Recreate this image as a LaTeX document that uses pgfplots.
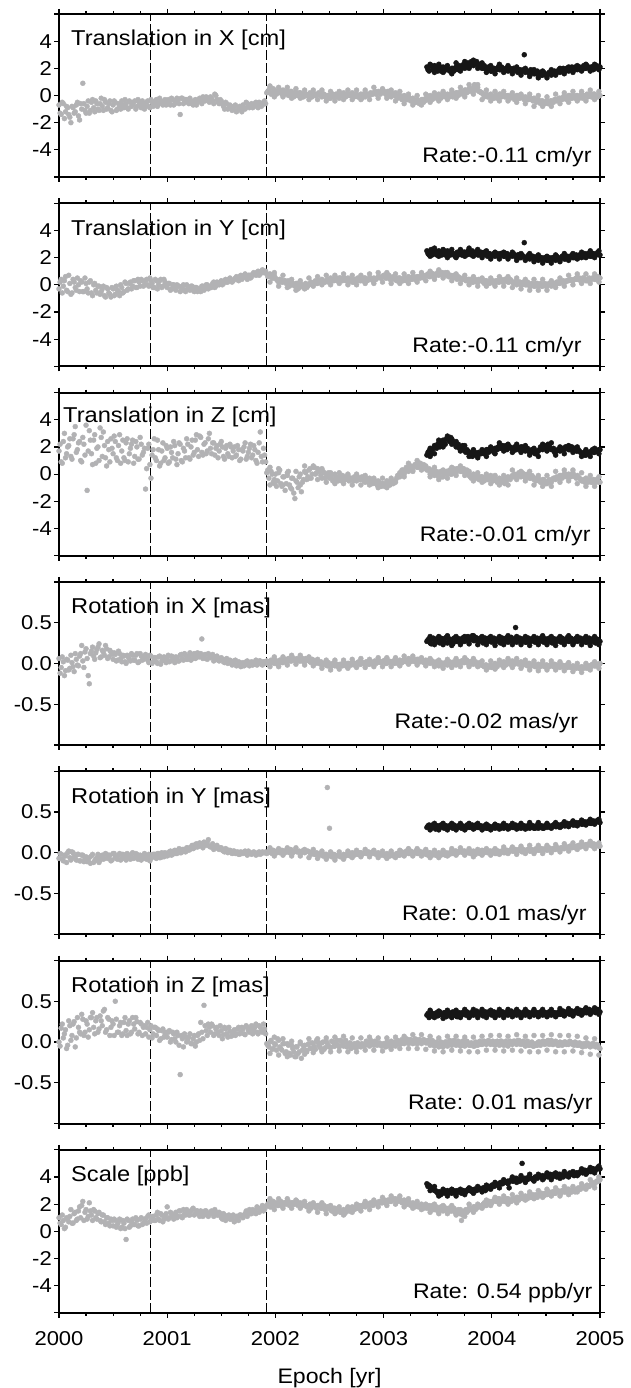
\documentclass[border=0pt]{standalone}
\usepackage{fontspec}
\setmainfont{Liberation Sans}[FakeStretch=1.1]
\usepackage{pgfplots}
\usepackage{pgfplotstable}
\pgfplotsset{compat=1.18}

\definecolor{dotgray}{RGB}{178,178,180}
\definecolor{dotblack}{RGB}{22,22,22}

% combined solutions, columns: epoch, TX TY TZ [cm], RX RY RZ [mas], scale [ppb]
\pgfplotstableread{
x tx ty tz rx ry rz sc
2000.00 -0.7 -0.3 1.7 0.06 -0.07 0.00 1.0
2000.02 -1.4 0.4 0.9 -0.05 -0.02 0.17 0.5
2000.04 -0.6 -0.1 2.4 0.02 -0.10 0.05 0.8
2000.06 -1.2 0.6 1.2 -0.09 -0.04 0.15 0.3
2000.08 -0.9 -0.5 2.0 0.04 0.00 -0.04 0.9
2000.10 -1.6 0.1 2.6 -0.06 -0.06 0.20 1.1
2000.12 -0.8 -0.6 1.1 0.01 0.01 0.08 0.6
2000.14 -1.3 0.2 2.9 -0.10 -0.05 0.25 1.3
2000.16 -0.7 -0.4 1.6 0.05 -0.09 0.05 0.8
2000.18 -1.5 0.0 2.3 -0.03 -0.02 0.18 1.5
2000.20 -0.6 0.3 1.0 0.12 -0.10 0.10 1.0
2000.22 0.9 -0.5 2.7 0.03 -0.03 0.28 2.2
2000.24 -1.1 0.5 1.4 0.14 -0.07 0.12 1.4
2000.26 -0.8 -0.3 -1.2 0.06 -0.11 0.22 0.9
2000.28 -1.3 0.2 3.2 -0.25 -0.06 0.15 2.1
2000.30 -0.5 -0.6 1.5 0.15 -0.04 0.30 1.2
2000.32 -0.9 0.0 2.5 0.09 -0.12 0.18 1.6
2000.34 -0.4 -0.4 0.8 0.13 -0.08 0.26 1.0
2000.36 -1.0 -0.1 2.0 0.20 -0.02 0.12 1.3
2000.38 -0.6 -0.7 3.4 0.07 -0.09 0.32 0.8
2000.40 -0.8 -0.3 1.3 0.16 -0.03 0.20 1.2
2000.42 -0.3 -0.8 2.1 0.10 -0.07 0.40 0.7
2000.44 -1.0 -0.2 0.6 0.18 -0.02 0.15 1.0
2000.46 -0.6 -0.6 1.8 0.08 -0.06 0.28 0.6
2000.48 -1.1 -0.9 2.6 0.14 -0.10 0.18 0.9
2000.50 -0.7 -0.3 1.5 0.05 -0.01 0.22 0.4
2000.52 -0.5 -0.7 2.4 0.11 -0.05 0.50 0.8
2000.54 -1.0 -0.4 1.0 0.04 -0.08 0.12 0.5
2000.56 -0.8 -0.8 2.9 0.12 -0.01 0.20 0.9
2000.58 -0.4 -0.2 1.7 0.02 -0.07 0.08 0.3
2000.60 -0.9 -0.5 1.2 0.09 -0.03 0.24 0.6
2000.62 -0.6 0.1 2.3 0.00 -0.09 0.14 -0.6
2000.64 -1.0 -0.3 0.9 0.08 -0.04 0.22 0.8
2000.66 -0.5 0.2 1.9 0.03 -0.08 0.10 0.4
2000.68 -0.7 -0.1 2.5 0.10 0.00 0.30 0.9
2000.70 -0.4 0.3 1.3 0.04 -0.06 0.16 0.5
2000.72 -0.8 -0.2 2.0 0.12 -0.02 0.25 0.8
2000.74 -0.5 0.2 1.1 0.02 -0.05 0.12 0.4
2000.76 -0.9 0.4 2.2 0.09 -0.09 0.22 1.0
2000.78 -0.6 -0.1 1.6 0.05 -0.03 0.18 0.6
2000.80 -0.8 0.3 -1.1 0.11 -0.07 0.10 0.9
2000.82 -0.4 0.0 1.9 0.04 -0.04 0.24 1.1
2000.84 -0.9 0.5 0.7 0.10 -0.10 0.15 0.7
2000.86 -0.5 0.1 1.4 0.00 -0.05 0.05 1.0
2000.88 -0.7 -0.2 2.6 0.07 -0.02 0.18 0.8
2000.90 -0.3 0.3 1.0 0.02 -0.07 0.08 1.2
2000.92 -0.6 0.0 1.8 0.08 -0.01 0.14 0.9
2000.94 -0.4 0.4 0.8 -0.01 -0.06 0.04 1.3
2000.96 -0.7 -0.1 2.3 0.06 -0.03 0.16 0.7
2000.98 -0.3 0.2 1.2 0.03 0.00 0.10 1.1
2001.00 -0.6 -0.2 1.9 0.07 -0.04 0.06 1.8
2001.02 -0.5 0.1 0.9 0.02 0.01 0.14 1.0
2001.04 -0.2 -0.3 1.6 0.09 -0.03 0.03 1.3
2001.06 -0.7 0.0 2.4 0.04 0.02 0.10 0.9
2001.08 -0.4 -0.4 1.1 0.08 -0.01 0.00 1.4
2001.10 -0.3 -0.1 1.5 0.03 0.03 0.08 1.1
2001.12 -1.4 -0.5 2.2 0.10 0.00 -0.40 1.5
2001.14 -0.2 -0.2 0.9 0.06 0.04 0.04 1.0
2001.16 -0.5 -0.4 1.7 0.12 0.02 0.10 1.3
2001.18 -0.3 0.0 2.6 0.05 0.06 0.00 1.6
2001.20 -0.6 -0.3 1.2 0.09 0.03 0.06 1.2
2001.22 -0.4 -0.1 2.0 0.04 0.07 -0.02 1.5
2001.24 -0.7 -0.4 1.4 0.11 0.05 0.04 1.7
2001.26 -0.3 -0.2 2.5 0.06 0.10 -0.05 1.3
2001.28 -0.5 -0.5 1.8 0.13 0.07 0.08 1.5
2001.30 -0.2 -0.3 2.8 0.08 0.12 0.02 1.1
2001.32 -0.6 -0.1 1.6 0.30 0.08 0.12 1.4
2001.34 -0.3 -0.4 2.2 0.10 0.13 0.45 1.2
2001.36 -0.1 0.0 1.5 0.06 0.09 0.14 1.5
2001.38 -0.4 -0.3 2.6 0.12 0.16 0.22 1.1
2001.40 -0.1 -0.1 1.9 0.07 0.07 0.12 1.4
2001.42 -0.4 0.1 2.3 0.11 0.11 0.20 1.3
2001.44 0.1 -0.2 1.4 0.05 0.06 0.10 1.6
2001.46 -0.3 0.2 2.1 0.09 0.09 0.18 1.2
2001.48 -0.6 0.0 1.7 0.03 0.04 0.08 1.4
2001.50 -0.4 0.3 2.4 0.07 0.06 0.14 1.0
2001.52 -0.8 0.1 1.3 0.02 0.02 0.09 1.3
2001.54 -0.5 0.4 1.9 0.05 0.05 0.16 0.8
2001.56 -1.0 0.2 1.5 0.00 0.00 0.06 1.1
2001.58 -0.7 0.5 2.2 0.04 0.03 0.13 0.9
2001.60 -1.1 0.2 1.2 -0.02 -0.01 0.08 1.0
2001.62 -0.8 0.4 2.0 0.03 0.02 0.15 0.7
2001.64 -1.2 0.6 1.4 -0.03 0.00 0.10 1.1
2001.66 -0.9 0.3 1.8 0.02 -0.02 0.18 0.8
2001.68 -1.0 0.7 1.1 -0.04 0.01 0.12 1.2
2001.70 -0.7 0.5 1.7 0.01 -0.01 0.16 1.0
2001.72 -1.0 0.8 2.3 -0.02 0.02 0.09 1.3
2001.74 -0.6 0.4 1.3 0.03 -0.03 0.18 1.1
2001.76 -0.9 0.7 1.9 -0.03 0.00 0.12 1.6
2001.78 -0.6 0.6 1.2 0.02 -0.02 0.20 1.3
2001.80 -0.8 0.9 2.1 -0.01 0.01 0.14 1.5
2001.82 -0.5 0.7 1.0 0.04 -0.03 0.22 1.3
2001.84 -0.9 1.0 1.6 0.00 0.00 0.10 1.7
2001.86 -0.6 0.8 3.1 0.03 -0.02 0.18 1.5
2001.88 -0.7 1.1 0.9 -0.02 0.01 0.12 1.9
2001.90 -0.4 0.9 1.4 0.02 0.00 0.16 1.6
2001.92 0.2 0.8 0.1 0.03 -0.01 -0.02 1.9
2001.94 0.4 0.7 -0.3 0.00 0.02 -0.06 2.1
2001.96 0.1 0.6 0.2 0.04 0.00 0.02 1.8
2001.98 0.5 0.5 -0.6 0.01 0.03 -0.08 2.2
2002.00 0.3 0.5 0.0 0.03 -0.01 -0.03 2.0
2002.02 0.2 0.3 -0.5 -0.01 0.02 0.04 1.9
2002.04 0.4 0.4 0.3 0.04 0.00 -0.06 2.2
2002.06 0.1 0.2 -0.9 0.01 0.03 -0.10 1.9
2002.08 0.3 0.3 -0.2 0.05 0.01 -0.02 2.1
2002.10 0.2 0.1 -0.7 0.02 0.03 -0.12 2.0
2002.12 0.0 0.3 0.2 0.06 0.01 -0.04 2.2
2002.14 0.3 0.1 -1.0 0.03 0.04 -0.16 1.9
2002.16 0.1 0.0 -0.3 0.07 0.00 -0.08 2.1
2002.18 0.2 -0.1 -1.8 0.04 0.02 -0.18 2.0
2002.20 0.0 0.1 -0.6 0.06 0.01 -0.06 2.2
2002.22 0.2 -0.2 -0.2 0.03 0.02 -0.12 2.0
2002.24 0.1 0.0 -1.3 0.05 0.00 -0.20 1.9
2002.26 -0.1 -0.2 -0.4 0.02 0.03 -0.05 2.1
2002.28 0.1 0.1 0.1 0.06 0.01 -0.10 1.9
2002.30 0.0 -0.1 -0.2 0.04 0.02 -0.03 1.8
2002.32 0.2 0.1 0.4 0.02 0.00 -0.08 2.0
2002.34 -0.1 0.0 0.0 0.05 0.01 -0.01 1.8
2002.36 0.1 0.2 0.5 0.01 -0.02 -0.06 1.9
2002.38 0.0 0.1 0.1 0.03 0.00 0.02 1.7
2002.40 0.2 0.3 0.3 0.00 -0.03 -0.04 1.9
2002.42 0.0 0.2 -0.1 0.02 -0.01 -0.08 1.7
2002.44 0.1 0.3 0.2 -0.02 -0.04 0.00 1.8
2002.46 -0.1 0.2 -0.3 0.01 -0.02 -0.07 1.6
2002.48 0.0 0.4 0.0 -0.03 0.80 -0.02 1.8
2002.50 -0.2 0.3 -0.3 -0.01 0.30 -0.06 1.7
2002.52 0.0 0.4 -0.1 -0.03 -0.05 0.01 1.5
2002.54 -0.1 0.3 -0.4 0.00 -0.02 -0.05 1.7
2002.56 0.1 0.5 -0.2 -0.02 -0.04 0.00 1.4
2002.58 -0.1 0.4 -0.5 -0.04 -0.03 -0.04 1.6
2002.60 0.0 0.5 -0.3 -0.01 -0.05 0.02 1.4
2002.62 0.1 0.3 -0.1 -0.03 -0.04 -0.03 1.5
2002.64 -0.1 0.5 -0.4 0.00 -0.03 0.00 1.3
2002.66 0.1 0.4 -0.2 -0.02 -0.02 -0.06 1.6
2002.68 0.0 0.3 -0.5 0.00 -0.03 -0.02 1.5
2002.70 0.1 0.4 -0.3 -0.02 -0.01 -0.08 1.7
2002.72 -0.1 0.2 -0.5 0.01 -0.03 -0.04 1.6
2002.74 0.1 0.3 -0.3 -0.01 0.00 -0.07 1.8
2002.76 -0.1 0.5 -0.2 0.01 -0.02 -0.01 1.7
2002.78 0.0 0.3 -0.4 -0.01 0.00 -0.05 1.9
2002.80 -0.2 0.4 -0.2 0.01 -0.02 -0.02 1.8
2002.82 0.0 0.5 -0.5 0.00 0.00 -0.05 2.0
2002.84 0.1 0.3 -0.3 0.02 -0.01 0.01 1.9
2002.86 0.0 0.4 -0.6 -0.01 0.01 -0.03 2.0
2002.88 0.2 0.5 -0.4 0.02 -0.01 0.02 2.1
2002.90 0.1 0.3 -0.7 0.00 0.01 -0.02 1.9
2002.92 0.3 0.4 -0.5 0.03 -0.01 0.01 2.1
2002.94 0.2 0.5 -0.8 0.01 -0.02 -0.04 2.0
2002.96 0.2 0.6 -0.6 0.03 -0.01 -0.01 2.2
2002.98 0.3 0.5 -0.9 0.01 -0.03 -0.05 2.1
2003.00 0.2 0.7 -0.7 0.03 -0.02 -0.02 2.2
2003.02 0.1 0.5 -0.8 0.00 -0.03 -0.06 2.1
2003.04 0.3 0.6 -0.6 0.02 -0.02 -0.03 2.3
2003.06 0.0 0.4 -0.8 0.01 -0.04 -0.01 2.2
2003.08 0.1 0.5 -0.5 0.02 -0.02 -0.04 2.4
2003.10 0.0 0.4 -0.6 0.00 -0.03 0.00 2.3
2003.12 -0.1 0.3 -0.3 0.02 -0.01 -0.03 2.2
2003.14 0.0 0.5 -0.1 0.01 -0.03 0.01 2.4
2003.16 -0.2 0.4 0.1 0.03 0.00 -0.02 2.2
2003.18 -0.1 0.3 0.3 0.02 -0.02 0.02 2.1
2003.20 -0.2 0.5 0.2 0.04 -0.01 0.00 2.2
2003.22 -0.3 0.4 0.4 0.02 0.01 0.03 2.0
2003.24 -0.2 0.5 0.5 0.05 -0.01 -0.01 2.1
2003.26 -0.4 0.4 0.3 0.03 0.01 0.02 2.0
2003.28 -0.3 0.6 0.6 0.05 0.00 0.00 1.9
2003.30 -0.5 0.5 0.7 0.03 0.02 0.03 2.0
2003.32 -0.4 0.6 0.5 0.05 -0.01 -0.01 1.8
2003.34 -0.5 0.5 0.8 0.02 0.01 0.02 1.9
2003.36 -0.3 0.7 0.4 0.04 -0.01 0.00 1.7
2003.38 -0.4 0.6 0.6 0.01 0.00 0.02 1.8
2003.40 -0.2 0.7 0.3 0.03 -0.02 -0.01 1.7
2003.42 -0.3 0.6 0.4 0.01 0.00 0.01 1.9
2003.44 -0.1 0.7 0.1 0.02 -0.02 -0.03 1.8
2003.46 -0.2 0.8 0.2 0.00 -0.01 0.00 1.6
2003.48 -0.1 0.7 0.0 0.01 -0.03 -0.04 1.7
2003.50 -0.2 0.9 -0.1 -0.01 -0.02 -0.02 1.5
2003.52 0.0 0.8 0.1 0.00 -0.03 -0.05 1.7
2003.54 -0.1 0.9 -0.2 -0.02 -0.01 -0.02 1.6
2003.56 0.1 0.7 0.0 0.00 -0.02 -0.04 1.8
2003.58 0.0 0.8 0.2 -0.01 0.00 0.00 1.6
2003.60 0.0 0.6 0.1 0.00 -0.01 -0.02 1.7
2003.62 0.1 0.7 0.0 -0.02 0.01 0.01 1.5
2003.64 -0.1 0.5 0.3 0.01 -0.01 -0.02 1.6
2003.66 0.1 0.6 0.2 -0.01 0.02 0.00 1.4
2003.68 0.2 0.4 0.4 0.02 0.00 -0.03 1.5
2003.70 0.1 0.5 0.3 0.01 0.02 -0.01 1.3
2003.72 0.3 0.4 0.2 0.03 0.01 -0.04 0.8
2003.74 0.2 0.5 0.4 0.01 0.02 0.00 1.4
2003.76 0.4 0.3 0.1 0.02 0.00 -0.03 1.6
2003.78 0.3 0.4 0.0 0.00 0.01 -0.01 1.5
2003.80 0.5 0.3 -0.2 0.02 -0.01 -0.04 1.7
2003.82 0.4 0.2 -0.1 0.00 0.01 -0.02 1.6
2003.84 0.8 0.3 -0.3 0.01 -0.01 -0.05 1.8
2003.86 0.5 0.2 -0.2 -0.01 0.01 -0.02 1.7
2003.88 0.3 0.4 -0.4 0.00 0.00 0.00 1.9
2003.90 0.2 0.3 -0.2 -0.02 0.02 -0.03 1.8
2003.92 0.1 0.2 -0.4 -0.03 0.01 0.00 2.0
2003.94 0.0 0.3 -0.3 -0.02 0.03 -0.02 1.9
2003.96 -0.1 0.2 -0.4 -0.04 0.00 0.01 2.1
2003.98 0.0 0.1 -0.2 -0.03 0.02 -0.01 2.2
2004.00 -0.1 0.2 -0.3 -0.05 0.00 0.00 2.1
2004.02 -0.2 0.1 -0.4 -0.03 0.01 -0.03 2.3
2004.04 0.0 0.3 -0.5 -0.02 -0.01 0.00 2.2
2004.06 -0.1 0.2 -0.4 -0.01 0.02 -0.02 2.4
2004.08 0.1 0.3 -0.6 0.00 0.00 0.01 2.2
2004.10 0.0 0.2 -0.5 0.01 0.02 -0.03 2.3
2004.12 -0.1 0.4 -0.7 -0.01 0.00 -0.01 2.2
2004.14 0.0 0.3 -0.4 0.02 0.03 -0.04 2.4
2004.16 -0.2 0.2 -0.3 0.00 0.01 0.00 2.3
2004.18 0.0 0.3 -0.2 0.02 0.04 -0.02 2.2
2004.20 -0.1 0.1 -0.2 0.01 0.02 0.01 2.4
2004.22 -0.2 0.2 -0.1 0.02 0.04 -0.01 2.3
2004.24 0.0 0.1 0.0 0.00 0.02 0.02 2.5
2004.26 -0.2 0.2 -0.1 0.01 0.03 -0.02 2.4
2004.28 -0.1 0.0 0.1 -0.01 0.01 0.00 2.6
2004.30 -0.3 0.1 0.0 0.00 0.03 -0.03 2.5
2004.32 -0.2 0.0 -0.2 -0.02 0.02 0.00 2.4
2004.34 -0.3 0.1 -0.1 0.00 0.04 -0.04 2.6
2004.36 -0.2 -0.1 -0.3 -0.03 0.02 -0.02 2.5
2004.38 -0.4 0.0 -0.2 -0.02 0.03 -0.05 2.7
2004.40 -0.3 -0.1 -0.4 -0.04 0.02 -0.02 2.6
2004.42 -0.4 0.1 -0.3 -0.02 0.04 -0.04 2.5
2004.44 -0.5 0.0 -0.5 -0.03 0.03 0.00 2.7
2004.46 -0.4 -0.1 -0.6 -0.01 0.05 -0.02 2.8
2004.48 -0.6 0.0 -0.4 -0.03 0.03 0.01 2.6
2004.50 -0.5 -0.1 -0.7 -0.02 0.04 -0.01 2.8
2004.52 -0.6 0.0 -0.5 -0.04 0.05 0.02 2.9
2004.54 -0.4 0.1 -0.6 -0.02 0.03 -0.01 2.7
2004.56 -0.5 0.0 -0.4 -0.03 0.05 -0.03 2.9
2004.58 -0.3 0.1 -0.3 -0.01 0.04 0.00 2.8
2004.60 -0.4 0.2 -0.2 -0.03 0.06 -0.02 3.0
2004.62 -0.2 0.1 -0.3 -0.04 0.04 -0.04 2.9
2004.64 -0.3 0.2 -0.1 -0.02 0.06 -0.01 2.8
2004.66 -0.1 0.3 -0.2 -0.04 0.05 -0.03 3.0
2004.68 -0.2 0.2 0.0 -0.03 0.07 0.00 2.9
2004.70 -0.1 0.3 -0.1 -0.05 0.06 -0.02 3.1
2004.72 0.0 0.4 -0.2 -0.03 0.08 0.01 3.0
2004.74 -0.2 0.3 0.0 -0.05 0.06 -0.02 2.9
2004.76 -0.1 0.4 -0.1 -0.04 0.08 -0.04 3.1
2004.78 0.0 0.5 -0.3 -0.06 0.07 -0.01 3.0
2004.80 -0.1 0.4 -0.2 -0.05 0.09 -0.04 3.2
2004.82 0.0 0.3 -0.4 -0.07 0.07 -0.02 3.1
2004.84 -0.2 0.5 -0.5 -0.05 0.09 -0.06 3.3
2004.86 0.0 0.4 -0.6 -0.04 0.08 -0.03 3.2
2004.88 0.1 0.3 -0.4 -0.06 0.10 -0.01 3.4
2004.90 0.0 0.5 -0.5 -0.03 0.11 -0.03 3.3
2004.92 -0.1 0.4 -0.6 -0.04 0.09 -0.05 3.5
2004.94 0.1 0.5 -0.4 -0.02 0.11 -0.02 3.4
2004.96 0.0 0.4 -0.6 -0.03 0.09 -0.06 3.6
2004.98 -0.1 0.6 -0.5 -0.01 0.10 -0.04 3.7
2005.00 0.0 0.5 -0.6 0.00 0.08 -0.08 3.8
}\greya

\pgfplotstableread{
x tx ty tz rx ry rz sc
2000.01 -1.3 0.2 2.2 -0.12 -0.01 -0.05 0.6
2000.03 -0.5 -0.6 0.8 0.08 -0.08 0.22 1.2
2000.05 -1.7 0.3 3.0 -0.15 -0.03 0.10 0.2
2000.07 -0.8 -0.4 1.5 0.05 -0.12 -0.08 1.0
2000.09 -1.4 0.7 2.1 -0.08 0.02 0.26 0.7
2000.11 -2.0 -0.7 1.3 0.10 -0.09 0.02 1.6
2000.13 -0.9 0.4 2.6 -0.04 0.00 0.22 0.6
2000.15 -1.2 -0.2 3.5 0.12 -0.07 -0.06 1.4
2000.17 -0.5 0.5 1.8 -0.02 -0.02 0.30 0.9
2000.19 -1.8 -0.5 2.4 0.09 -0.10 0.12 1.8
2000.21 -1.0 0.2 0.9 0.22 -0.03 0.34 1.9
2000.23 -0.6 -0.5 2.2 -0.05 -0.11 0.08 0.8
2000.25 -1.3 0.1 3.6 0.18 -0.05 0.26 1.6
2000.27 -0.4 -0.6 1.7 -0.15 -0.09 0.06 1.1
2000.29 -1.1 0.3 2.5 0.12 -0.13 0.30 1.5
2000.31 -0.3 -0.8 0.7 0.20 -0.02 0.36 0.8
2000.33 -1.2 0.1 2.9 0.05 -0.10 0.10 1.5
2000.35 -0.6 -0.6 1.9 0.17 -0.06 0.30 0.9
2000.37 -1.1 -0.1 1.0 0.24 -0.12 0.16 1.4
2000.39 -0.2 -0.5 2.7 0.08 -0.04 0.26 0.7
2000.41 -1.1 -0.1 3.1 0.14 -0.08 0.38 1.2
2000.43 -0.5 -0.9 1.2 0.22 -0.01 0.12 0.5
2000.45 -0.9 -0.3 2.4 0.06 -0.07 0.30 1.0
2000.47 -0.4 -0.7 0.9 0.16 -0.03 0.08 0.4
2000.49 -1.2 -0.2 1.9 0.11 -0.09 0.26 0.8
2000.51 -0.4 -0.8 2.8 0.13 -0.01 0.08 0.9
2000.53 -1.1 -0.1 1.2 0.03 -0.07 0.28 0.3
2000.55 -0.6 -0.5 2.1 0.15 -0.03 0.12 0.7
2000.57 -1.0 0.0 0.8 0.06 -0.09 0.24 0.2
2000.59 -0.7 -0.6 2.5 0.10 -0.02 0.10 0.8
2000.61 -0.3 0.2 1.0 0.02 -0.07 0.30 0.2
2000.63 -0.9 -0.4 2.6 0.10 -0.01 0.08 0.9
2000.65 -0.4 0.1 1.5 0.05 -0.06 0.26 0.3
2000.67 -0.8 -0.3 2.2 0.12 -0.02 0.12 0.7
2000.69 -0.5 0.3 0.8 0.04 -0.07 0.22 0.5
2000.71 -1.0 -0.2 2.4 0.10 -0.01 0.30 1.0
2000.73 -0.3 0.4 1.1 0.01 -0.08 0.10 0.4
2000.75 -0.7 -0.1 2.7 0.12 -0.03 0.24 0.9
2000.77 -0.4 0.3 1.4 0.04 -0.07 0.08 0.5
2000.79 -1.0 0.0 1.9 0.09 -0.01 0.20 0.9
2000.81 -0.5 0.4 0.4 0.08 -0.08 0.18 0.6
2000.83 -0.8 -0.1 2.2 0.01 -0.02 0.06 1.2
2000.85 -0.3 0.3 -0.3 0.09 -0.07 0.20 0.8
2000.87 -0.8 -0.2 1.8 0.02 -0.02 0.10 1.1
2000.89 -0.4 0.4 1.2 0.07 -0.06 0.18 0.8
2000.91 -0.8 -0.3 2.5 0.00 -0.01 0.16 1.4
2000.93 -0.2 0.3 0.6 0.09 -0.06 0.02 0.8
2000.95 -0.6 -0.2 1.7 0.03 0.00 0.14 1.2
2000.97 -0.4 0.4 1.0 0.08 -0.05 0.06 0.9
2000.99 -0.7 -0.1 2.1 0.01 -0.02 0.12 1.3
2001.01 -0.3 0.1 0.8 0.10 -0.03 0.12 0.9
2001.03 -0.7 -0.4 2.0 0.03 0.02 0.00 1.4
2001.05 -0.3 0.0 1.2 0.08 -0.02 0.12 1.1
2001.07 -0.6 -0.3 2.1 0.01 0.03 0.04 1.2
2001.09 -0.2 0.0 0.7 0.07 -0.01 0.12 1.0
2001.11 -0.6 -0.1 2.3 0.03 0.05 -0.04 1.5
2001.13 -0.2 -0.4 1.0 0.11 0.00 0.08 1.1
2001.15 -0.6 0.0 1.9 0.04 0.04 -0.06 1.6
2001.17 -0.3 -0.5 1.2 0.10 0.01 0.06 1.2
2001.19 -0.5 -0.2 2.2 0.05 0.06 0.02 1.4
2001.21 -0.2 -0.4 1.1 0.13 0.04 0.10 1.2
2001.23 -0.6 -0.1 2.5 0.06 0.09 -0.02 1.6
2001.25 -0.4 -0.5 1.6 0.12 0.06 0.08 1.2
2001.27 -0.7 -0.2 2.9 0.07 0.11 0.00 1.5
2001.29 -0.3 -0.3 1.3 0.10 0.08 0.10 1.3
2001.31 -0.4 -0.5 2.7 0.12 0.11 0.24 1.5
2001.33 -0.1 -0.1 1.4 0.06 0.06 0.04 1.1
2001.35 -0.4 -0.3 2.3 0.11 0.10 0.20 1.5
2001.37 -0.2 0.0 1.7 0.05 0.12 0.08 1.2
2001.39 -0.5 -0.2 3.0 0.10 0.08 0.18 1.3
2001.41 -0.2 -0.2 1.5 0.09 0.08 0.22 1.5
2001.43 -0.6 0.2 2.3 0.03 0.04 0.08 1.1
2001.45 0.0 -0.1 1.9 0.08 0.07 0.16 1.4
2001.47 -0.5 0.1 1.2 0.04 0.05 0.12 1.2
2001.49 -0.3 0.2 2.2 0.06 0.06 0.20 1.3
2001.51 -0.6 0.0 2.0 0.05 0.03 0.04 0.9
2001.53 -1.0 0.3 1.1 0.01 0.01 0.18 1.2
2001.55 -0.6 0.2 2.1 0.06 0.04 0.10 1.0
2001.57 -0.9 0.4 1.3 0.01 0.01 0.18 1.2
2001.59 -0.8 0.3 2.0 0.03 0.02 0.07 0.9
2001.61 -1.0 0.3 1.7 0.00 0.02 0.12 1.2
2001.63 -0.7 0.5 1.3 0.04 -0.01 0.08 0.8
2001.65 -1.1 0.4 2.1 -0.02 0.01 0.16 1.0
2001.67 -0.8 0.6 1.0 0.01 -0.02 0.10 1.2
2001.69 -1.2 0.4 1.8 -0.03 0.00 0.18 1.1
2001.71 -0.9 0.7 2.0 -0.03 0.01 0.10 1.2
2001.73 -0.5 0.6 1.1 0.02 -0.01 0.20 1.5
2001.75 -0.8 0.7 1.6 -0.01 0.02 0.14 1.4
2001.77 -0.7 0.5 2.2 0.01 -0.01 0.16 1.3
2001.79 -0.9 0.8 1.4 -0.02 0.00 0.10 1.6
2001.81 -0.6 0.8 1.8 0.01 0.00 0.18 1.5
2001.83 -0.8 0.9 0.8 -0.02 -0.02 0.12 1.8
2001.85 -0.5 0.7 2.3 0.03 0.01 0.20 1.4
2001.87 -0.8 1.0 1.3 -0.01 -0.01 0.14 1.7
2001.89 -0.5 0.9 1.9 0.02 0.00 0.22 1.5
2001.91 -0.6 1.0 0.9 0.00 0.01 0.10 1.8
2001.93 0.3 0.6 0.3 0.02 0.00 -0.04 2.0
2001.95 0.6 0.8 -0.8 -0.01 0.02 0.00 1.8
2001.97 0.2 0.5 0.0 0.03 -0.01 -0.09 2.1
2001.99 0.4 0.7 -0.4 0.00 0.02 -0.02 1.9
2002.01 0.1 0.4 -0.9 0.03 0.00 -0.10 2.1
2002.03 0.4 0.2 0.1 0.00 0.03 0.02 1.9
2002.05 0.2 0.4 -0.7 0.04 0.01 -0.08 2.2
2002.07 0.4 0.2 -0.2 0.01 0.02 -0.02 1.9
2002.09 0.1 0.3 -1.2 0.05 0.00 -0.14 2.1
2002.11 0.3 0.2 -0.1 0.02 0.03 -0.02 2.2
2002.13 0.1 -0.1 -0.8 0.06 0.00 -0.14 1.9
2002.15 0.3 0.2 -0.3 0.03 0.03 -0.04 2.1
2002.17 -0.1 0.0 -1.4 0.05 0.01 -0.12 2.0
2002.19 0.2 0.1 -0.5 0.02 0.02 -0.06 2.2
2002.21 0.0 -0.3 -1.0 0.05 0.01 -0.14 1.9
2002.23 0.2 0.1 0.0 0.03 -0.01 -0.02 2.1
2002.25 -0.1 -0.1 -0.6 0.06 0.02 -0.10 1.9
2002.27 0.2 0.0 0.2 0.02 0.00 -0.04 2.0
2002.29 0.0 -0.2 -0.4 0.05 0.02 -0.12 1.8
2002.31 0.1 0.0 0.3 0.03 0.01 -0.02 1.9
2002.33 -0.1 0.2 -0.3 0.01 -0.02 -0.08 1.7
2002.35 0.2 0.1 0.6 0.04 0.00 -0.02 1.9
2002.37 0.0 0.3 0.0 0.00 -0.02 -0.09 1.8
2002.39 0.1 0.1 0.4 0.03 -0.01 0.00 1.9
2002.41 0.1 0.2 0.2 0.01 -0.03 -0.06 1.8
2002.43 -0.1 0.4 -0.3 -0.03 -0.01 -0.01 1.7
2002.45 0.1 0.2 0.1 0.00 -0.04 -0.09 1.9
2002.47 -0.2 0.3 -0.2 -0.02 -0.02 0.01 1.6
2002.49 0.0 0.2 0.1 0.01 -0.04 -0.05 1.8
2002.51 -0.2 0.5 -0.2 -0.04 -0.03 -0.07 1.6
2002.53 0.1 0.3 -0.5 0.00 -0.05 0.00 1.5
2002.55 -0.1 0.4 0.0 -0.03 -0.03 -0.05 1.7
2002.57 0.0 0.3 -0.4 -0.01 -0.04 0.02 1.5
2002.59 -0.2 0.5 -0.2 -0.04 -0.03 -0.06 1.6
2002.61 0.0 0.4 -0.5 -0.02 -0.05 0.01 1.4
2002.63 0.2 0.5 -0.2 0.01 -0.02 -0.05 1.6
2002.65 -0.1 0.3 -0.4 -0.03 -0.04 0.02 1.4
2002.67 0.1 0.5 -0.1 0.00 -0.02 -0.04 1.7
2002.69 0.0 0.4 -0.4 -0.02 -0.04 -0.01 1.5
2002.71 0.2 0.2 -0.4 0.01 0.00 -0.06 1.8
2002.73 -0.1 0.4 -0.2 -0.02 -0.03 -0.02 1.6
2002.75 0.1 0.3 -0.5 0.00 -0.01 -0.07 1.7
2002.77 -0.1 0.4 -0.3 0.02 -0.02 -0.03 1.8
2002.79 0.1 0.3 -0.4 -0.01 0.00 -0.06 1.7
2002.81 0.1 0.3 -0.3 0.01 -0.01 -0.03 1.9
2002.83 -0.1 0.5 -0.6 -0.01 0.01 -0.04 1.8
2002.85 0.1 0.3 -0.4 0.01 -0.01 -0.01 2.0
2002.87 0.0 0.5 -0.3 -0.01 0.00 -0.05 1.9
2002.89 0.1 0.4 -0.6 0.01 0.00 0.00 2.0
2002.91 0.2 0.5 -0.6 0.02 -0.01 -0.04 2.0
2002.93 0.1 0.4 -0.7 0.00 -0.02 0.00 2.1
2002.95 0.3 0.6 -0.5 0.03 0.00 -0.03 2.0
2002.97 0.1 0.5 -0.8 0.01 -0.02 -0.02 2.2
2002.99 0.3 0.6 -0.7 0.02 -0.02 -0.04 2.1
2003.01 0.3 0.7 -0.9 0.04 -0.04 -0.05 2.3
2003.03 0.0 0.5 -0.5 0.00 -0.01 0.00 2.1
2003.05 0.3 0.7 -0.8 0.03 -0.04 -0.05 2.3
2003.07 -0.1 0.4 -0.5 0.00 -0.02 0.01 2.2
2003.09 0.1 0.6 -0.7 0.03 -0.04 -0.04 2.4
2003.11 0.2 0.5 -0.5 0.03 -0.04 -0.05 2.4
2003.13 -0.2 0.3 -0.1 0.00 -0.01 0.02 2.2
2003.15 0.0 0.5 -0.2 0.04 -0.03 -0.03 2.4
2003.17 -0.3 0.3 0.3 0.01 0.01 0.03 2.1
2003.19 0.0 0.5 0.0 0.05 -0.02 -0.02 2.3
2003.21 -0.3 0.3 0.5 0.02 0.02 0.04 2.0
2003.23 -0.1 0.6 0.2 0.06 -0.01 -0.02 2.2
2003.25 -0.4 0.4 0.6 0.02 0.02 0.03 1.9
2003.27 -0.2 0.6 0.3 0.06 -0.01 -0.02 2.1
2003.29 -0.5 0.4 0.7 0.02 0.01 0.04 1.8
2003.31 -0.3 0.6 0.5 0.05 -0.01 -0.02 2.0
2003.33 -0.6 0.5 0.8 0.02 0.02 0.03 1.8
2003.35 -0.3 0.7 0.6 0.05 -0.01 -0.02 2.0
2003.37 -0.5 0.5 0.7 0.01 0.01 0.03 1.7
2003.39 -0.2 0.7 0.4 0.04 -0.02 -0.01 1.9
2003.41 -0.3 0.8 0.3 0.03 -0.03 0.02 1.8
2003.43 0.0 0.6 0.0 0.00 0.00 -0.04 1.6
2003.45 -0.3 0.8 0.3 0.03 -0.03 0.02 1.9
2003.47 0.0 0.6 -0.1 0.00 0.00 -0.05 1.6
2003.49 -0.2 0.8 0.2 0.02 -0.03 0.00 1.8
2003.51 0.1 0.7 -0.2 -0.03 0.00 -0.06 1.5
2003.53 -0.2 0.9 0.2 0.01 -0.03 0.00 1.8
2003.55 0.0 0.7 -0.2 -0.03 0.00 -0.06 1.5
2003.57 -0.1 0.9 0.1 0.01 -0.03 0.00 1.7
2003.59 0.1 0.7 0.0 -0.02 -0.01 -0.05 1.5
2003.61 -0.1 0.7 0.3 0.02 -0.02 0.02 1.7
2003.63 0.2 0.5 0.0 -0.02 0.02 -0.04 1.5
2003.65 0.0 0.7 0.4 0.02 -0.01 0.02 1.7
2003.67 0.2 0.5 0.1 -0.02 0.02 -0.04 1.4
2003.69 0.0 0.6 0.4 0.02 0.00 0.01 1.6
2003.71 0.3 0.5 0.2 0.00 0.03 -0.05 1.5
2003.73 0.1 0.4 0.4 0.03 0.00 0.01 1.2
2003.75 0.4 0.5 0.1 0.01 0.02 -0.05 1.5
2003.77 0.2 0.3 0.3 0.04 0.00 0.01 1.4
2003.79 0.5 0.4 -0.1 0.01 0.02 -0.04 1.7
2003.81 0.3 0.4 -0.3 0.02 0.00 -0.01 1.6
2003.83 0.6 0.2 0.0 -0.01 0.02 -0.05 1.8
2003.85 0.4 0.4 -0.3 0.02 -0.02 0.00 1.6
2003.87 0.6 0.2 -0.1 -0.01 0.02 -0.04 1.8
2003.89 0.3 0.3 -0.4 0.01 -0.01 0.01 1.8
2003.91 0.2 0.3 -0.2 -0.01 0.03 -0.03 1.9
2003.93 -0.1 0.1 -0.5 -0.04 0.00 0.01 2.1
2003.95 0.1 0.3 -0.2 -0.02 0.03 -0.03 1.9
2003.97 -0.1 0.2 -0.4 -0.05 0.01 0.02 2.2
2003.99 0.1 0.3 -0.1 -0.02 0.02 -0.03 2.0
2004.01 -0.2 0.3 -0.5 -0.04 0.02 0.01 2.2
2004.03 0.0 0.1 -0.3 0.00 -0.01 -0.04 2.4
2004.05 -0.2 0.3 -0.6 -0.04 0.02 0.01 2.2
2004.07 0.1 0.2 -0.3 0.00 -0.01 -0.04 2.4
2004.09 -0.1 0.4 -0.6 -0.02 0.02 0.01 2.2
2004.11 0.1 0.2 -0.3 0.02 0.00 -0.04 2.4
2004.13 -0.1 0.4 -0.6 -0.02 0.03 0.01 2.2
2004.15 0.0 0.2 -0.2 0.02 0.01 -0.05 2.4
2004.17 -0.2 0.4 -0.4 -0.01 0.03 0.01 2.2
2004.19 0.0 0.2 -0.1 0.03 0.02 -0.03 2.4
2004.21 -0.3 0.2 0.0 -0.01 0.03 0.01 2.3
2004.23 0.0 0.0 -0.2 0.02 0.01 -0.03 2.5
2004.25 -0.2 0.2 0.1 -0.01 0.04 0.02 2.3
2004.27 0.0 0.0 -0.2 0.02 0.02 -0.03 2.5
2004.29 -0.2 0.2 0.0 -0.02 0.04 0.01 2.4
2004.31 -0.1 0.0 -0.3 0.00 0.02 -0.05 2.6
2004.33 -0.3 0.2 0.0 -0.03 0.04 0.01 2.4
2004.35 -0.1 -0.1 -0.3 0.00 0.02 -0.04 2.7
2004.37 -0.3 0.1 -0.1 -0.03 0.04 0.00 2.5
2004.39 -0.2 -0.1 -0.4 -0.01 0.02 -0.05 2.6
2004.41 -0.5 0.1 -0.5 -0.04 0.05 -0.04 2.7
2004.43 -0.3 -0.1 -0.3 -0.01 0.03 0.00 2.6
2004.45 -0.6 0.1 -0.6 -0.04 0.05 -0.04 2.8
2004.47 -0.4 -0.1 -0.4 -0.01 0.02 0.01 2.6
2004.49 -0.6 0.1 -0.6 -0.04 0.05 -0.03 2.8
2004.51 -0.4 -0.1 -0.7 -0.02 0.03 0.01 2.7
2004.53 -0.6 0.1 -0.4 -0.04 0.06 -0.03 2.9
2004.55 -0.4 -0.1 -0.6 -0.01 0.03 0.02 2.7
2004.57 -0.5 0.1 -0.3 -0.04 0.05 -0.03 2.9
2004.59 -0.3 0.0 -0.4 -0.02 0.04 0.01 2.8
2004.61 -0.3 0.2 -0.3 -0.02 0.06 -0.04 3.0
2004.63 -0.2 0.1 -0.1 -0.05 0.04 0.00 2.8
2004.65 -0.3 0.2 -0.3 -0.02 0.06 -0.04 3.0
2004.67 -0.1 0.2 0.0 -0.04 0.05 0.00 2.9
2004.69 -0.3 0.3 -0.2 -0.02 0.07 -0.03 3.0
2004.71 0.0 0.3 0.0 -0.03 0.07 -0.03 3.1
2004.73 -0.2 0.4 -0.2 -0.05 0.08 0.00 2.9
2004.75 0.0 0.3 0.1 -0.03 0.07 -0.03 3.1
2004.77 -0.2 0.4 -0.2 -0.05 0.06 0.00 2.9
2004.79 0.0 0.4 -0.1 -0.04 0.08 -0.04 3.1
2004.81 -0.2 0.5 -0.3 -0.06 0.08 -0.01 3.1
2004.83 0.1 0.3 -0.5 -0.04 0.09 -0.05 3.3
2004.85 -0.1 0.5 -0.4 -0.06 0.08 -0.02 3.2
2004.87 0.0 0.3 -0.3 -0.04 0.10 -0.05 3.3
2004.89 -0.1 0.4 -0.6 -0.05 0.09 -0.02 3.3
2004.91 0.1 0.4 -0.4 -0.03 0.10 -0.06 3.4
2004.93 -0.1 0.5 -0.6 -0.01 0.08 -0.02 3.6
2004.95 0.1 0.4 -0.5 -0.03 0.10 -0.05 3.5
2004.97 -0.1 0.6 -0.4 -0.01 0.09 -0.03 3.7
2004.99 0.0 0.5 -0.6 -0.02 0.08 -0.07 3.7
}\greyb

\pgfplotstableread{
x tx ty tz rx ry rz sc
2001.95 0.7 0.2 0.5 -0.04 0.06 -0.14 2.4
2001.99 -0.1 0.9 -0.7 0.08 -0.04 0.06 1.6
2002.03 0.6 -0.1 0.4 -0.04 0.05 -0.16 2.4
2002.07 -0.1 0.7 -0.8 0.08 -0.03 0.04 1.7
2002.11 0.6 -0.2 0.1 -0.02 0.06 -0.18 2.4
2002.15 -0.2 0.4 -1.1 0.10 -0.04 0.01 1.7
2002.19 0.5 -0.4 0.2 -0.01 0.06 -0.18 2.3
2002.23 -0.2 0.3 -0.8 0.10 -0.04 0.00 1.7
2002.27 0.4 -0.3 0.6 -0.02 0.04 -0.15 2.2
2002.31 -0.3 0.5 -0.3 0.08 -0.06 0.04 1.5
2002.35 0.4 -0.1 0.5 -0.03 0.04 -0.13 2.1
2002.39 -0.3 0.6 -0.4 0.05 -0.07 0.04 1.4
2002.43 0.4 0.0 0.4 -0.06 0.02 -0.12 2.1
2002.47 -0.4 0.7 -0.6 0.04 -0.08 0.05 1.3
2002.51 0.3 0.0 0.1 -0.08 0.01 -0.12 1.9
2002.55 -0.4 0.7 -0.7 0.04 -0.09 0.06 1.3
2002.59 0.3 0.1 0.1 -0.07 0.01 -0.11 1.8
2002.63 -0.3 0.8 -0.7 0.04 -0.08 0.07 1.2
2002.67 0.4 0.0 0.0 -0.06 0.02 -0.12 1.8
2002.71 -0.3 0.7 -0.8 0.05 -0.06 0.05 1.4
2002.75 0.4 0.0 0.0 -0.05 0.03 -0.12 2.0
2002.79 -0.3 0.7 -0.8 0.06 -0.05 0.05 1.5
2002.83 0.4 0.1 -0.1 -0.05 0.04 -0.10 2.2
2002.87 -0.3 0.8 -0.8 0.05 -0.05 0.06 1.6
2002.91 0.6 0.1 -0.3 -0.04 0.03 -0.10 2.3
2002.95 -0.2 0.9 -1.0 0.07 -0.06 0.05 1.8
2002.99 0.5 0.2 -0.3 -0.04 0.02 -0.11 2.5
2003.03 -0.2 0.9 -1.0 0.07 -0.07 0.05 1.9
2003.07 0.4 0.1 -0.3 -0.04 0.02 -0.09 2.6
2003.11 -0.4 0.8 -0.6 0.07 -0.06 0.06 2.0
2003.15 0.3 0.1 0.1 -0.03 0.03 -0.08 2.6
2003.19 -0.6 0.8 -0.2 0.09 -0.04 0.07 1.8
2003.23 0.1 0.1 0.8 -0.01 0.05 -0.08 2.4
2003.27 -0.7 0.9 0.2 0.09 -0.04 0.09 1.7
2003.31 0.0 0.2 1.0 -0.02 0.05 -0.08 2.2
2003.35 -0.7 0.9 0.3 0.07 -0.04 0.09 1.6
2003.39 0.1 0.3 0.6 -0.03 0.04 -0.09 2.0
2003.43 -0.5 1.0 -0.2 0.06 -0.06 0.07 1.4
2003.47 0.2 0.4 0.5 -0.04 0.03 -0.11 2.0
2003.51 -0.4 1.1 -0.4 0.04 -0.06 0.05 1.3
2003.55 0.3 0.5 0.3 -0.06 0.03 -0.12 1.9
2003.59 -0.3 0.9 -0.3 0.05 -0.04 0.07 1.3
2003.63 0.4 0.3 0.5 -0.05 0.05 -0.10 1.9
2003.67 -0.2 0.8 -0.1 0.06 -0.03 0.07 1.2
2003.71 0.6 0.1 0.6 -0.04 0.06 -0.11 1.6
2003.75 -0.1 0.7 -0.1 0.07 -0.03 0.06 1.1
2003.79 0.8 0.0 0.2 -0.04 0.05 -0.12 2.0
2003.83 0.1 0.6 -0.5 0.06 -0.05 0.06 1.4
2003.87 0.8 -0.1 0.1 -0.04 0.04 -0.12 2.0
2003.91 -0.3 0.5 -0.6 0.03 -0.03 0.07 1.7
2003.95 0.4 -0.1 0.0 -0.08 0.05 -0.10 2.3
2003.99 -0.4 0.5 -0.7 0.03 -0.03 0.08 1.9
2004.03 0.3 -0.1 -0.1 -0.07 0.05 -0.10 2.5
2004.07 -0.4 0.6 -0.8 0.04 -0.02 0.08 2.0
2004.11 0.3 -0.1 -0.1 -0.05 0.07 -0.11 2.6
2004.15 -0.4 0.6 -0.8 0.06 -0.01 0.07 2.0
2004.19 0.2 -0.2 0.3 -0.05 0.07 -0.10 2.7
2004.23 -0.5 0.5 -0.4 0.06 -0.02 0.09 2.1
2004.27 0.1 -0.3 0.2 -0.06 0.08 -0.11 2.8
2004.31 -0.6 0.4 -0.5 0.04 -0.01 0.07 2.3
2004.35 0.1 -0.4 0.2 -0.08 0.09 -0.12 2.9
2004.39 -0.8 0.4 -0.8 0.03 -0.01 0.08 2.4
2004.43 0.0 -0.4 -0.1 -0.09 0.09 -0.12 3.0
2004.47 -0.8 0.4 -0.9 0.03 -0.01 0.08 2.5
2004.51 -0.1 -0.4 -0.1 -0.08 0.09 -0.10 3.1
2004.55 -0.8 0.3 -0.9 0.03 0.00 0.09 2.6
2004.59 0.1 -0.2 0.2 -0.08 0.10 -0.12 3.2
2004.63 -0.6 0.5 -0.6 0.02 0.01 0.08 2.6
2004.67 0.2 -0.1 0.3 -0.09 0.11 -0.12 3.3
2004.71 -0.5 0.7 -0.5 0.01 0.02 0.08 2.7
2004.75 0.3 0.0 0.3 -0.10 0.12 -0.11 3.3
2004.79 -0.4 0.8 -0.7 0.00 0.04 0.07 2.9
2004.83 0.3 0.1 0.1 -0.11 0.13 -0.13 3.5
2004.87 -0.4 0.8 -0.9 0.00 0.05 0.05 3.1
2004.91 0.4 0.1 -0.1 -0.08 0.14 -0.15 3.8
2004.95 -0.3 0.8 -0.9 0.02 0.05 0.04 3.2
2004.99 0.3 0.2 -0.2 -0.06 0.12 -0.16 4.0
}\greyc

% second solution series from mid 2003
\pgfplotstableread{
x tx ty tz rx ry rz sc
2003.40 2.1 2.5 1.4 0.27 0.31 0.33 3.5
2003.41 1.9 2.3 1.6 0.29 0.33 0.35 3.3
2003.42 1.8 2.2 1.7 0.30 0.34 0.30 3.4
2003.43 2.2 2.5 1.3 0.25 0.31 0.32 3.3
2003.44 2.2 2.6 1.5 0.24 0.30 0.36 3.2
2003.45 1.9 2.2 1.8 0.30 0.34 0.35 3.1
2003.46 1.9 2.3 1.9 0.31 0.33 0.31 3.1
2003.47 2.2 2.5 2.1 0.25 0.31 0.32 3.0
2003.48 2.1 2.5 2.0 0.26 0.29 0.35 3.0
2003.49 1.9 2.2 1.9 0.30 0.33 0.36 2.9
2003.50 1.8 2.3 2.2 0.29 0.33 0.32 2.8
2003.51 2.1 2.5 2.3 0.26 0.30 0.33 2.9
2003.52 2.1 2.4 2.0 0.25 0.31 0.37 2.9
2003.53 1.8 2.2 2.1 0.31 0.34 0.35 2.7
2003.54 2.0 2.2 2.4 0.30 0.34 0.33 2.8
2003.55 2.1 2.4 2.5 0.26 0.31 0.32 2.9
2003.56 1.8 2.5 2.3 0.27 0.30 0.36 3.0
2003.57 1.9 2.2 2.2 0.31 0.33 0.36 2.8
2003.58 2.1 2.3 2.6 0.32 0.33 0.31 2.9
2003.59 2.0 2.5 2.6 0.25 0.30 0.33 3.0
2003.60 1.9 2.4 2.5 0.26 0.31 0.35 2.8
2003.61 1.8 2.2 2.4 0.30 0.33 0.36 2.9
2003.62 1.8 2.2 2.7 0.29 0.34 0.32 3.0
2003.63 2.0 2.4 2.6 0.26 0.31 0.33 2.8
2003.64 2.0 2.3 2.4 0.24 0.30 0.37 2.9
2003.65 1.8 2.2 2.3 0.31 0.34 0.36 3.0
2003.66 1.9 2.1 2.2 0.31 0.33 0.34 2.8
2003.67 2.1 2.3 2.0 0.27 0.30 0.32 2.8
2003.68 2.1 2.4 2.1 0.27 0.31 0.31 3.0
2003.69 1.9 2.2 2.2 0.30 0.33 0.35 2.9
2003.70 2.2 2.3 1.9 0.30 0.33 0.36 2.9
2003.71 2.1 2.4 1.8 0.27 0.31 0.33 3.0
2003.72 2.0 2.2 2.0 0.26 0.30 0.33 2.8
2003.73 2.2 2.2 2.1 0.31 0.33 0.36 2.9
2003.74 2.3 2.4 1.8 0.32 0.32 0.37 3.0
2003.75 2.0 2.4 1.7 0.27 0.31 0.34 2.9
2003.76 2.1 2.3 1.6 0.28 0.30 0.33 2.9
2003.77 2.3 2.2 1.8 0.32 0.34 0.37 3.0
2003.78 2.4 2.5 1.7 0.33 0.33 0.36 3.1
2003.79 2.2 2.4 1.5 0.28 0.31 0.33 3.0
2003.80 2.2 2.3 1.5 0.29 0.31 0.32 3.0
2003.81 2.5 2.2 1.6 0.31 0.33 0.35 3.1
2003.82 2.4 2.5 1.3 0.34 0.34 0.37 2.9
2003.83 2.2 2.4 1.4 0.28 0.31 0.33 3.0
2003.84 2.3 2.3 1.5 0.28 0.30 0.34 3.1
2003.85 2.4 2.4 1.6 0.32 0.34 0.36 3.0
2003.86 2.5 2.4 1.4 0.31 0.33 0.38 3.0
2003.87 2.3 2.2 1.3 0.28 0.31 0.34 3.1
2003.88 2.2 2.2 1.6 0.27 0.31 0.33 3.2
2003.89 2.3 2.4 1.5 0.31 0.33 0.36 3.1
2003.90 2.1 2.4 1.5 0.30 0.33 0.36 3.1
2003.91 2.0 2.2 1.6 0.27 0.31 0.34 3.0
2003.92 2.0 2.2 1.7 0.25 0.30 0.32 3.2
2003.93 2.2 2.4 1.5 0.31 0.33 0.35 3.2
2003.94 2.1 2.3 1.6 0.31 0.32 0.37 3.0
2003.95 1.9 2.2 1.8 0.26 0.30 0.33 3.1
2003.96 1.9 2.1 1.8 0.27 0.30 0.34 3.3
2003.97 2.1 2.3 1.6 0.31 0.33 0.37 3.3
2003.98 2.0 2.3 1.7 0.30 0.32 0.36 3.2
2003.99 1.8 2.2 1.9 0.27 0.31 0.34 3.2
2004.00 1.8 2.1 1.8 0.26 0.30 0.33 3.4
2004.01 2.0 2.2 1.7 0.30 0.32 0.35 3.4
2004.02 2.0 2.3 1.6 0.31 0.33 0.37 3.3
2004.03 1.8 2.1 1.9 0.26 0.30 0.34 3.4
2004.04 1.9 2.2 1.9 0.27 0.31 0.33 3.5
2004.05 2.0 2.3 1.8 0.30 0.33 0.36 3.4
2004.06 2.1 2.1 2.0 0.30 0.33 0.36 3.4
2004.07 1.9 2.1 2.1 0.27 0.31 0.33 3.5
2004.08 1.9 2.3 1.9 0.25 0.30 0.34 3.6
2004.09 2.1 2.3 1.9 0.31 0.33 0.37 3.5
2004.10 2.0 2.2 2.1 0.31 0.33 0.37 3.5
2004.11 1.9 2.1 2.0 0.27 0.30 0.34 3.6
2004.12 1.8 2.1 2.0 0.27 0.31 0.33 3.7
2004.13 2.0 2.3 2.1 0.31 0.33 0.36 3.6
2004.14 2.0 2.3 1.8 0.30 0.33 0.36 3.6
2004.15 1.8 2.1 1.9 0.26 0.31 0.33 3.7
2004.16 1.9 2.1 2.0 0.28 0.30 0.34 3.2
2004.17 2.0 2.2 2.0 0.30 0.33 0.36 3.7
2004.18 1.8 2.2 1.9 0.32 0.33 0.38 3.8
2004.19 1.8 2.1 1.8 0.27 0.31 0.34 3.7
2004.20 2.0 2.3 1.7 0.26 0.31 0.33 3.7
2004.21 1.9 2.2 2.0 0.30 0.33 0.36 3.8
2004.22 1.9 2.1 1.9 0.44 0.34 0.37 3.9
2004.23 1.8 2.0 1.8 0.26 0.31 0.33 3.9
2004.24 1.7 2.2 2.0 0.28 0.30 0.34 3.8
2004.25 1.9 2.2 1.9 0.31 0.33 0.37 3.7
2004.26 1.9 2.0 1.8 0.31 0.33 0.36 3.7
2004.27 1.7 2.0 2.0 0.27 0.30 0.34 3.9
2004.28 1.8 2.2 2.0 0.27 0.31 0.33 5.0
2004.29 1.9 2.1 1.8 0.30 0.33 0.36 3.8
2004.30 3.0 3.1 1.8 0.30 0.33 0.37 3.9
2004.31 1.7 2.0 1.7 0.26 0.31 0.33 3.9
2004.32 1.8 2.0 1.9 0.26 0.30 0.34 3.8
2004.33 1.8 2.1 1.9 0.31 0.33 0.37 3.8
2004.34 1.7 2.2 1.7 0.31 0.33 0.36 4.0
2004.35 1.6 1.9 1.6 0.27 0.30 0.34 4.0
2004.36 1.9 2.0 1.6 0.27 0.31 0.33 3.9
2004.37 1.8 2.1 1.8 0.30 0.33 0.36 3.9
2004.38 1.7 2.1 1.8 0.30 0.33 0.37 3.8
2004.39 1.6 1.9 1.6 0.27 0.31 0.33 3.9
2004.40 1.6 1.9 1.5 0.26 0.30 0.34 4.0
2004.41 1.7 2.0 1.7 0.30 0.33 0.36 4.0
2004.42 1.8 2.1 1.6 0.31 0.33 0.36 3.9
2004.43 1.5 1.8 1.7 0.26 0.30 0.34 4.0
2004.44 1.6 1.9 1.8 0.28 0.31 0.33 4.1
2004.45 1.7 2.0 2.0 0.31 0.33 0.37 4.0
2004.46 1.5 2.0 1.9 0.31 0.33 0.37 4.0
2004.47 1.5 1.8 1.8 0.27 0.31 0.33 4.1
2004.48 1.7 1.8 2.1 0.26 0.30 0.34 3.9
2004.49 1.6 2.0 2.1 0.30 0.33 0.36 4.0
2004.50 1.5 2.0 2.0 0.30 0.32 0.36 4.1
2004.51 1.5 1.8 2.0 0.27 0.31 0.34 4.1
2004.52 1.6 1.8 2.2 0.27 0.34 0.33 4.0
2004.53 1.7 2.0 2.1 0.31 0.33 0.37 4.1
2004.54 1.7 1.9 1.9 0.31 0.31 0.37 4.2
2004.55 1.5 1.8 1.8 0.26 0.31 0.33 4.0
2004.56 1.6 2.0 1.8 0.25 0.33 0.34 4.0
2004.57 1.7 2.0 1.9 0.30 0.34 0.36 4.2
2004.58 1.8 1.9 1.6 0.30 0.35 0.36 4.1
2004.59 1.6 1.8 1.7 0.27 0.32 0.34 4.1
2004.60 1.7 2.1 1.7 0.27 0.32 0.33 4.0
2004.61 1.8 2.0 1.8 0.30 0.34 0.36 4.1
2004.62 1.9 1.9 1.8 0.31 0.34 0.37 4.2
2004.63 1.7 1.9 1.7 0.27 0.32 0.34 4.2
2004.64 1.8 2.0 1.9 0.26 0.32 0.34 4.1
2004.65 1.9 2.1 1.9 0.31 0.35 0.37 4.1
2004.66 2.0 2.1 1.8 0.30 0.35 0.38 4.0
2004.67 1.8 1.9 1.8 0.27 0.33 0.35 4.2
2004.68 1.8 1.9 2.0 0.27 0.33 0.34 4.2
2004.69 2.0 2.1 2.0 0.30 0.35 0.37 4.1
2004.70 2.0 2.1 1.9 0.32 0.36 0.37 4.1
2004.71 1.8 1.9 1.8 0.27 0.33 0.35 4.2
2004.72 1.9 2.0 1.8 0.27 0.34 0.34 4.3
2004.73 2.0 2.1 2.0 0.31 0.36 0.38 4.2
2004.74 2.1 2.2 2.0 0.30 0.36 0.38 4.2
2004.75 1.9 2.0 1.8 0.27 0.34 0.35 4.3
2004.76 1.9 2.0 1.9 0.26 0.34 0.35 4.1
2004.77 2.1 2.1 1.9 0.30 0.36 0.38 4.2
2004.78 2.0 2.2 1.7 0.31 0.37 0.38 4.3
2004.79 1.9 2.0 1.7 0.27 0.35 0.36 4.3
2004.80 2.1 2.0 1.8 0.28 0.35 0.35 4.2
2004.81 2.1 2.2 1.7 0.30 0.37 0.38 4.3
2004.82 1.9 2.2 1.6 0.31 0.37 0.39 4.4
2004.83 2.0 2.0 1.5 0.27 0.35 0.36 4.4
2004.84 2.1 2.1 1.5 0.27 0.35 0.35 4.3
2004.85 2.2 2.2 1.6 0.30 0.37 0.39 4.4
2004.86 2.0 2.3 1.4 0.30 0.38 0.39 4.5
2004.87 2.0 2.1 1.4 0.26 0.36 0.36 4.4
2004.88 2.2 2.1 1.6 0.26 0.36 0.36 4.3
2004.89 2.1 2.3 1.6 0.30 0.38 0.39 4.5
2004.90 2.0 2.3 1.5 0.31 0.39 0.40 4.5
2004.91 1.9 2.1 1.6 0.27 0.36 0.37 4.4
2004.92 2.1 2.1 1.7 0.27 0.36 0.36 4.4
2004.93 2.1 2.3 1.8 0.30 0.38 0.39 4.6
2004.94 1.9 2.3 1.6 0.30 0.39 0.39 4.6
2004.95 2.0 2.1 1.6 0.26 0.37 0.37 4.5
2004.96 2.1 2.2 1.8 0.25 0.37 0.36 4.5
2004.97 2.2 2.3 1.7 0.30 0.39 0.40 4.6
2004.98 2.0 2.4 1.7 0.29 0.40 0.40 4.7
2004.99 2.0 2.2 1.8 0.27 0.38 0.38 4.6
2005.00 2.1 2.2 1.8 0.27 0.37 0.37 4.6
}\blk

\pgfplotstableread{
x tx ty tz rx ry rz sc
2003.43 2.3 2.1 1.9 0.33 0.28 0.39 3.0
2003.47 1.7 2.7 1.5 0.23 0.36 0.30 3.3
2003.51 2.3 2.1 2.5 0.33 0.28 0.38 2.6
2003.55 1.7 2.6 2.0 0.23 0.36 0.29 3.1
2003.59 2.2 2.0 2.8 0.34 0.28 0.39 2.6
2003.63 1.6 2.6 2.2 0.22 0.36 0.30 3.1
2003.67 2.4 2.0 2.4 0.33 0.28 0.39 2.6
2003.71 1.8 2.6 1.7 0.23 0.36 0.30 3.1
2003.75 2.5 2.1 2.1 0.33 0.28 0.40 2.7
2003.79 2.0 2.7 1.3 0.24 0.36 0.30 3.2
2003.83 2.6 2.1 1.8 0.34 0.29 0.40 2.8
2003.87 2.0 2.6 1.2 0.23 0.36 0.30 3.3
2003.91 2.4 2.0 1.8 0.33 0.28 0.40 2.9
2003.95 1.7 2.5 1.3 0.23 0.35 0.30 3.4
2003.99 2.2 1.9 2.0 0.33 0.28 0.39 3.1
2004.03 1.6 2.4 1.5 0.22 0.35 0.30 3.6
2004.07 2.3 1.9 2.3 0.33 0.29 0.40 3.2
2004.11 1.7 2.4 1.7 0.23 0.36 0.30 3.8
2004.15 2.2 1.9 2.2 0.34 0.29 0.40 3.5
2004.19 1.6 2.4 1.6 0.23 0.36 0.31 4.0
2004.23 2.1 1.8 2.2 0.33 0.29 0.40 3.6
2004.27 1.5 2.3 1.6 0.23 0.36 0.30 4.1
2004.31 2.0 1.8 2.1 0.33 0.29 0.40 3.6
2004.35 1.4 2.3 1.4 0.22 0.37 0.31 4.2
2004.39 1.9 1.7 1.9 0.33 0.30 0.40 3.7
2004.43 1.3 2.2 1.3 0.23 0.37 0.31 4.2
2004.47 1.8 1.6 2.2 0.34 0.30 0.40 3.8
2004.51 1.3 2.1 1.7 0.23 0.36 0.31 4.3
2004.55 1.9 1.6 2.3 0.33 0.30 0.40 3.8
2004.59 1.5 2.2 1.4 0.22 0.37 0.31 4.3
2004.63 2.0 1.7 2.0 0.33 0.31 0.41 3.9
2004.67 1.6 2.3 1.5 0.23 0.38 0.32 4.4
2004.71 2.1 1.8 2.1 0.34 0.32 0.41 4.0
2004.75 1.7 2.3 1.6 0.23 0.39 0.32 4.4
2004.79 2.2 1.9 2.0 0.33 0.33 0.41 4.1
2004.83 1.8 2.4 1.3 0.23 0.40 0.33 4.6
2004.87 2.3 2.0 1.8 0.33 0.34 0.42 4.2
2004.91 1.8 2.5 1.3 0.22 0.41 0.34 4.7
2004.95 2.3 2.0 1.9 0.33 0.35 0.42 4.3
2004.99 1.9 2.5 1.5 0.23 0.41 0.34 4.8
}\blkc

\pgfplotsset{
  panel/.style={
    at={(59pt,-#1)}, anchor=north west,
    width=541pt, height=163pt, scale only axis,
    xmin=2000, xmax=2005,
    xtick={2000,2001,2002,2003,2004,2005},
    minor x tick num=3,
    xticklabels={},
    tick align=outside,
    major tick length=5pt, minor tick length=3pt,
    every tick/.style={black, line width=1.2pt},
    axis line style={line width=2pt},
    tick label style={font=\fontsize{20}{22}\selectfont},
    yticklabel style={inner sep=2pt},
  },
  trans/.style={ymin=-6, ymax=6, ytick={-6,-4,-2,0,2,4,6},
    yticklabels={{},-4,-2,0,2,4,{}}},
  rot/.style={ymin=-1, ymax=1, ytick={-1,-0.5,0,0.5,1},
    yticklabels={{},-0.5,0.0,0.5,{}}},
  gdots/.style={only marks, mark=*, mark size=2.5pt, color=dotgray},
  bdots/.style={only marks, mark=*, mark size=2.5pt, color=dotblack},
  brk/.style={black, line width=1pt, dash pattern=on 10pt off 3pt},
}
\tikzset{
  ttl/.style={anchor=base west, inner sep=0pt, xshift=12pt, yshift=-32pt,
    font=\fontsize{21.5}{24}\selectfont},
  rate/.style={anchor=base east, inner sep=0pt, yshift=14pt,
    font=\fontsize{21}{24}\selectfont},
}

\begin{document}
\begin{tikzpicture}
\path[use as bounding box] (0pt,0pt) rectangle (630pt,-1388pt);

\begin{axis}[panel=14pt, trans]
\addplot[gdots] table[x=x, y=tx]{\greya};
\addplot[gdots] table[x=x, y=tx]{\greyb};
\addplot[gdots] table[x=x, y=tx]{\greyc};
\addplot[bdots] table[x=x, y=tx]{\blk};
\addplot[bdots] table[x=x, y=tx]{\blkc};
\addplot[brk] coordinates {(2000.85,-6) (2000.85,6)};
\addplot[brk] coordinates {(2001.92,-6) (2001.92,6)};
\node[ttl] at (rel axis cs:0,1) {Translation in X [cm]};
\node[rate, xshift=-8.3pt] at (rel axis cs:1,0) {Rate:-0.11 cm/yr};
\end{axis}

\begin{axis}[panel=203.3pt, trans]
\addplot[gdots] table[x=x, y=ty]{\greya};
\addplot[gdots] table[x=x, y=ty]{\greyb};
\addplot[gdots] table[x=x, y=ty]{\greyc};
\addplot[bdots] table[x=x, y=ty]{\blk};
\addplot[bdots] table[x=x, y=ty]{\blkc};
\addplot[brk] coordinates {(2000.85,-6) (2000.85,6)};
\addplot[brk] coordinates {(2001.92,-6) (2001.92,6)};
\node[ttl] at (rel axis cs:0,1) {Translation in Y [cm]};
\node[rate, xshift=-18.3pt] at (rel axis cs:1,0) {Rate:-0.11 cm/yr};
\end{axis}

\begin{axis}[panel=392.6pt, trans]
\addplot[gdots] table[x=x, y=tz]{\greya};
\addplot[gdots] table[x=x, y=tz]{\greyb};
\addplot[gdots] table[x=x, y=tz]{\greyc};
\addplot[bdots] table[x=x, y=tz]{\blk};
\addplot[bdots] table[x=x, y=tz]{\blkc};
\addplot[brk] coordinates {(2000.85,-6) (2000.85,6)};
\addplot[brk] coordinates {(2001.92,-6) (2001.92,6)};
\node[ttl, xshift=-8pt, yshift=2pt] at (rel axis cs:0,1) {Translation in Z [cm]};
\node[rate, xshift=-9.3pt] at (rel axis cs:1,0) {Rate:-0.01 cm/yr};
\end{axis}

\begin{axis}[panel=581.9pt, rot]
\addplot[gdots] table[x=x, y=rx]{\greya};
\addplot[gdots] table[x=x, y=rx]{\greyb};
\addplot[gdots] table[x=x, y=rx]{\greyc};
\addplot[bdots] table[x=x, y=rx]{\blk};
\addplot[bdots] table[x=x, y=rx]{\blkc};
\addplot[brk] coordinates {(2000.85,-1) (2000.85,1)};
\addplot[brk] coordinates {(2001.92,-1) (2001.92,1)};
\node[ttl] at (rel axis cs:0,1) {Rotation in X [mas]};
\node[rate, xshift=-21.7pt, yshift=2.5pt] at (rel axis cs:1,0) {Rate:-0.02 mas/yr};
\end{axis}

\begin{axis}[panel=771.2pt, rot]
\addplot[gdots] table[x=x, y=ry]{\greya};
\addplot[gdots] table[x=x, y=ry]{\greyb};
\addplot[gdots] table[x=x, y=ry]{\greyc};
\addplot[bdots] table[x=x, y=ry]{\blk};
\addplot[bdots] table[x=x, y=ry]{\blkc};
\addplot[brk] coordinates {(2000.85,-1) (2000.85,1)};
\addplot[brk] coordinates {(2001.92,-1) (2001.92,1)};
\node[ttl] at (rel axis cs:0,1) {Rotation in Y [mas]};
\node[rate, xshift=-13.3pt] at (rel axis cs:1,0) {Rate: 0.01 mas/yr};
\end{axis}

\begin{axis}[panel=960.5pt, rot]
\addplot[gdots] table[x=x, y=rz]{\greya};
\addplot[gdots] table[x=x, y=rz]{\greyb};
\addplot[gdots] table[x=x, y=rz]{\greyc};
\addplot[bdots] table[x=x, y=rz]{\blk};
\addplot[bdots] table[x=x, y=rz]{\blkc};
\addplot[brk] coordinates {(2000.85,-1) (2000.85,1)};
\addplot[brk] coordinates {(2001.92,-1) (2001.92,1)};
\node[ttl] at (rel axis cs:0,1) {Rotation in Z [mas]};
\node[rate, xshift=-7.3pt] at (rel axis cs:1,0) {Rate: 0.01 mas/yr};
\end{axis}

\begin{axis}[panel=1149.8pt, trans,
    xticklabels={2000,2001,2002,2003,2004,2005},
    xticklabel style={anchor=base, yshift=-27.7pt},
    xlabel={Epoch [yr]},
    xlabel style={at={(axis description cs:0.5,0)}, anchor=base,
      yshift=-70.3pt, font=\fontsize{21}{24}\selectfont}]
\addplot[gdots] table[x=x, y=sc]{\greya};
\addplot[gdots] table[x=x, y=sc]{\greyb};
\addplot[gdots] table[x=x, y=sc]{\greyc};
\addplot[bdots] table[x=x, y=sc]{\blk};
\addplot[bdots] table[x=x, y=sc]{\blkc};
\addplot[brk] coordinates {(2000.85,-6) (2000.85,6)};
\addplot[brk] coordinates {(2001.92,-6) (2001.92,6)};
\node[ttl] at (rel axis cs:0,1) {Scale [ppb]};
\node[rate, xshift=-7.4pt] at (rel axis cs:1,0) {Rate: 0.54 ppb/yr};
\end{axis}
\end{tikzpicture}
\end{document}
